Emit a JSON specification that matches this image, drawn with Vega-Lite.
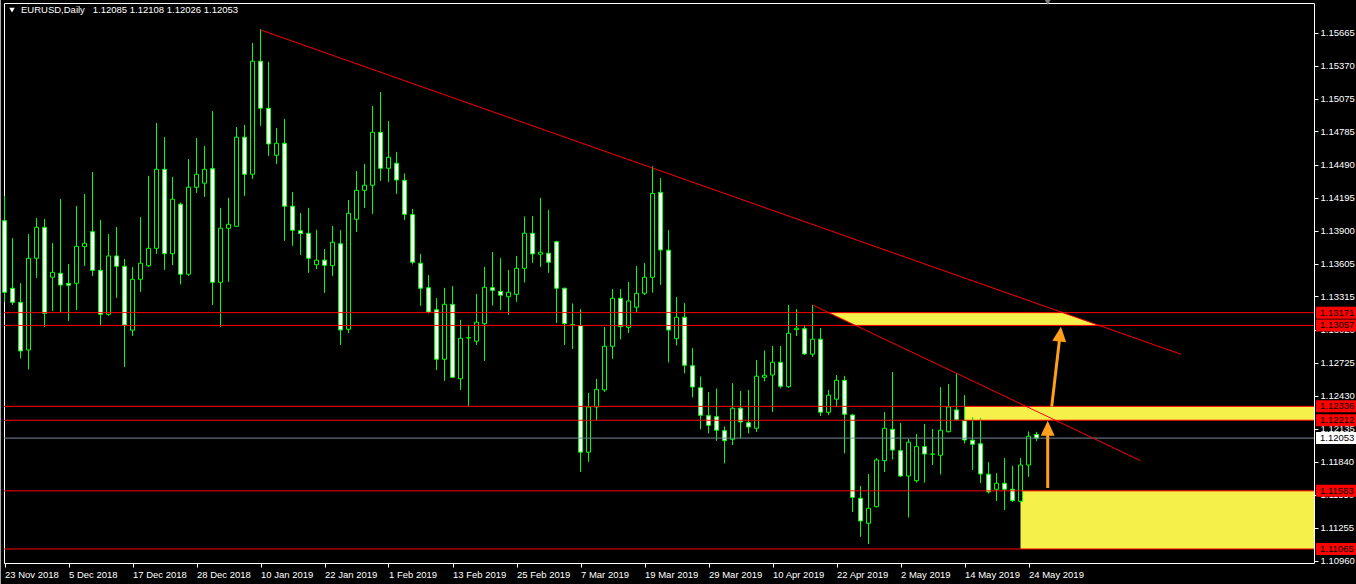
{
  "$schema": "https://vega.github.io/schema/vega-lite/v6.json",
  "width": 1310,
  "height": 560,
  "autosize": {"type": "none"},
  "padding": {"left": 4, "top": 3, "right": 42, "bottom": 21},
  "background": "#000000",
  "config": {
    "view": {"stroke": "#FFFFFF", "strokeWidth": 1},
    "font": "Liberation Sans",
    "axis": {"domain": false, "grid": false, "tickColor": "#FFFFFF", "labelColor": "#FFFFFF", "labelFont": "Liberation Sans", "labelFontSize": 9.5, "tickSize": 4}
  },
  "datasets": {
    "bars": [
      {"d": "2018-11-23", "o": 1.13990, "h": 1.14210, "l": 1.13269, "c": 1.13352},
      {"d": "2018-11-26", "o": 1.13388, "h": 1.13833, "l": 1.13239, "c": 1.13263},
      {"d": "2018-11-27", "o": 1.13263, "h": 1.13432, "l": 1.12764, "c": 1.12829},
      {"d": "2018-11-28", "o": 1.12838, "h": 1.13869, "l": 1.12666, "c": 1.13655},
      {"d": "2018-11-29", "o": 1.13655, "h": 1.14012, "l": 1.13482, "c": 1.13931},
      {"d": "2018-11-30", "o": 1.13931, "h": 1.14003, "l": 1.13046, "c": 1.13165},
      {"d": "2018-12-03", "o": 1.13486, "h": 1.13789, "l": 1.13188, "c": 1.13530},
      {"d": "2018-12-04", "o": 1.13522, "h": 1.14184, "l": 1.13179, "c": 1.13417},
      {"d": "2018-12-05", "o": 1.13432, "h": 1.13604, "l": 1.13099, "c": 1.13415},
      {"d": "2018-12-06", "o": 1.13432, "h": 1.14121, "l": 1.13195, "c": 1.13762},
      {"d": "2018-12-07", "o": 1.13759, "h": 1.14228, "l": 1.13589, "c": 1.13789},
      {"d": "2018-12-10", "o": 1.13892, "h": 1.14424, "l": 1.13500, "c": 1.13548},
      {"d": "2018-12-11", "o": 1.13548, "h": 1.13997, "l": 1.13061, "c": 1.13156},
      {"d": "2018-12-12", "o": 1.13156, "h": 1.13869, "l": 1.13144, "c": 1.13676},
      {"d": "2018-12-13", "o": 1.13676, "h": 1.13934, "l": 1.13304, "c": 1.13584},
      {"d": "2018-12-14", "o": 1.13584, "h": 1.13649, "l": 1.12689, "c": 1.13061},
      {"d": "2018-12-17", "o": 1.13014, "h": 1.13575, "l": 1.12966, "c": 1.13468},
      {"d": "2018-12-18", "o": 1.13468, "h": 1.14021, "l": 1.13358, "c": 1.13611},
      {"d": "2018-12-19", "o": 1.13589, "h": 1.14389, "l": 1.13580, "c": 1.13744},
      {"d": "2018-12-20", "o": 1.13744, "h": 1.14861, "l": 1.13696, "c": 1.14448},
      {"d": "2018-12-21", "o": 1.14448, "h": 1.14734, "l": 1.13554, "c": 1.13696},
      {"d": "2018-12-24", "o": 1.13696, "h": 1.14380, "l": 1.13596, "c": 1.14181},
      {"d": "2018-12-26", "o": 1.14137, "h": 1.14151, "l": 1.13424, "c": 1.13513},
      {"d": "2018-12-27", "o": 1.13513, "h": 1.14540, "l": 1.13500, "c": 1.14288},
      {"d": "2018-12-28", "o": 1.14288, "h": 1.14727, "l": 1.14240, "c": 1.14404},
      {"d": "2018-12-31", "o": 1.14324, "h": 1.14656, "l": 1.14204, "c": 1.14448},
      {"d": "2019-01-02", "o": 1.14454, "h": 1.14965, "l": 1.13239, "c": 1.13441},
      {"d": "2019-01-03", "o": 1.13441, "h": 1.14104, "l": 1.13046, "c": 1.13923},
      {"d": "2019-01-04", "o": 1.13923, "h": 1.14193, "l": 1.13447, "c": 1.13958},
      {"d": "2019-01-07", "o": 1.13940, "h": 1.14825, "l": 1.13935, "c": 1.14734},
      {"d": "2019-01-08", "o": 1.14734, "h": 1.14843, "l": 1.14213, "c": 1.14404},
      {"d": "2019-01-09", "o": 1.14404, "h": 1.15574, "l": 1.14365, "c": 1.15411},
      {"d": "2019-01-10", "o": 1.15411, "h": 1.15696, "l": 1.14837, "c": 1.14992},
      {"d": "2019-01-11", "o": 1.14992, "h": 1.15405, "l": 1.14570, "c": 1.14674},
      {"d": "2019-01-14", "o": 1.14573, "h": 1.14816, "l": 1.14498, "c": 1.14680},
      {"d": "2019-01-15", "o": 1.14680, "h": 1.14897, "l": 1.13812, "c": 1.14119},
      {"d": "2019-01-16", "o": 1.14119, "h": 1.14243, "l": 1.13768, "c": 1.13905},
      {"d": "2019-01-17", "o": 1.13901, "h": 1.14059, "l": 1.13685, "c": 1.13875},
      {"d": "2019-01-18", "o": 1.13878, "h": 1.14104, "l": 1.13527, "c": 1.13655},
      {"d": "2019-01-21", "o": 1.13598, "h": 1.13908, "l": 1.13560, "c": 1.13638},
      {"d": "2019-01-22", "o": 1.13638, "h": 1.13738, "l": 1.13349, "c": 1.13593},
      {"d": "2019-01-23", "o": 1.13589, "h": 1.13943, "l": 1.13500, "c": 1.13798},
      {"d": "2019-01-24", "o": 1.13785, "h": 1.13905, "l": 1.12883, "c": 1.13016},
      {"d": "2019-01-25", "o": 1.13023, "h": 1.14172, "l": 1.12990, "c": 1.14056},
      {"d": "2019-01-28", "o": 1.14003, "h": 1.14433, "l": 1.13892, "c": 1.14261},
      {"d": "2019-01-29", "o": 1.14261, "h": 1.14496, "l": 1.14106, "c": 1.14306},
      {"d": "2019-01-30", "o": 1.14306, "h": 1.15012, "l": 1.14053, "c": 1.14778},
      {"d": "2019-01-31", "o": 1.14778, "h": 1.15137, "l": 1.14347, "c": 1.14457},
      {"d": "2019-02-01", "o": 1.14457, "h": 1.14876, "l": 1.14338, "c": 1.14555},
      {"d": "2019-02-04", "o": 1.14502, "h": 1.14603, "l": 1.14231, "c": 1.14353},
      {"d": "2019-02-05", "o": 1.14350, "h": 1.14409, "l": 1.13999, "c": 1.14047},
      {"d": "2019-02-06", "o": 1.14044, "h": 1.14095, "l": 1.13602, "c": 1.13620},
      {"d": "2019-02-07", "o": 1.13611, "h": 1.13694, "l": 1.13233, "c": 1.13388},
      {"d": "2019-02-08", "o": 1.13393, "h": 1.13504, "l": 1.13165, "c": 1.13177},
      {"d": "2019-02-11", "o": 1.13197, "h": 1.13299, "l": 1.12660, "c": 1.12755},
      {"d": "2019-02-12", "o": 1.12755, "h": 1.13391, "l": 1.12565, "c": 1.13245},
      {"d": "2019-02-13", "o": 1.13245, "h": 1.13406, "l": 1.12590, "c": 1.12595},
      {"d": "2019-02-14", "o": 1.12582, "h": 1.13106, "l": 1.12484, "c": 1.12942},
      {"d": "2019-02-15", "o": 1.12945, "h": 1.13055, "l": 1.12339, "c": 1.12948},
      {"d": "2019-02-18", "o": 1.12916, "h": 1.13337, "l": 1.12883, "c": 1.13085},
      {"d": "2019-02-19", "o": 1.13073, "h": 1.13578, "l": 1.12740, "c": 1.13397},
      {"d": "2019-02-20", "o": 1.13393, "h": 1.13711, "l": 1.13236, "c": 1.13370},
      {"d": "2019-02-21", "o": 1.13361, "h": 1.13655, "l": 1.13195, "c": 1.13326},
      {"d": "2019-02-22", "o": 1.13313, "h": 1.13551, "l": 1.13150, "c": 1.13352},
      {"d": "2019-02-25", "o": 1.13334, "h": 1.13676, "l": 1.13269, "c": 1.13566},
      {"d": "2019-02-26", "o": 1.13566, "h": 1.14026, "l": 1.13441, "c": 1.13878},
      {"d": "2019-02-27", "o": 1.13878, "h": 1.14032, "l": 1.13616, "c": 1.13694},
      {"d": "2019-02-28", "o": 1.13691, "h": 1.14193, "l": 1.13580, "c": 1.13709},
      {"d": "2019-03-01", "o": 1.13700, "h": 1.14086, "l": 1.13527, "c": 1.13620},
      {"d": "2019-03-04", "o": 1.13803, "h": 1.13810, "l": 1.13081, "c": 1.13388},
      {"d": "2019-03-05", "o": 1.13388, "h": 1.13392, "l": 1.12883, "c": 1.13073},
      {"d": "2019-03-06", "o": 1.13064, "h": 1.13251, "l": 1.12847, "c": 1.13062},
      {"d": "2019-03-07", "o": 1.13055, "h": 1.13201, "l": 1.11754, "c": 1.11927},
      {"d": "2019-03-08", "o": 1.11927, "h": 1.12455, "l": 1.11843, "c": 1.12330},
      {"d": "2019-03-11", "o": 1.12330, "h": 1.12580, "l": 1.12214, "c": 1.12488},
      {"d": "2019-03-12", "o": 1.12482, "h": 1.13043, "l": 1.12467, "c": 1.12871},
      {"d": "2019-03-13", "o": 1.12871, "h": 1.13379, "l": 1.12761, "c": 1.13299},
      {"d": "2019-03-14", "o": 1.13299, "h": 1.13379, "l": 1.12934, "c": 1.13046},
      {"d": "2019-03-15", "o": 1.13040, "h": 1.13444, "l": 1.12990, "c": 1.13275},
      {"d": "2019-03-18", "o": 1.13219, "h": 1.13584, "l": 1.13177, "c": 1.13343},
      {"d": "2019-03-19", "o": 1.13343, "h": 1.13611, "l": 1.13328, "c": 1.13486},
      {"d": "2019-03-20", "o": 1.13486, "h": 1.14473, "l": 1.13351, "c": 1.14233},
      {"d": "2019-03-21", "o": 1.14243, "h": 1.14368, "l": 1.13420, "c": 1.13729},
      {"d": "2019-03-22", "o": 1.13727, "h": 1.13905, "l": 1.12729, "c": 1.13016},
      {"d": "2019-03-25", "o": 1.12939, "h": 1.13310, "l": 1.12880, "c": 1.13130},
      {"d": "2019-03-26", "o": 1.13130, "h": 1.13254, "l": 1.12631, "c": 1.12702},
      {"d": "2019-03-27", "o": 1.12698, "h": 1.12853, "l": 1.12417, "c": 1.12508},
      {"d": "2019-03-28", "o": 1.12502, "h": 1.12600, "l": 1.12132, "c": 1.12256},
      {"d": "2019-03-29", "o": 1.12253, "h": 1.12461, "l": 1.12096, "c": 1.12167},
      {"d": "2019-04-01", "o": 1.12244, "h": 1.12493, "l": 1.12030, "c": 1.12123},
      {"d": "2019-04-02", "o": 1.12119, "h": 1.12155, "l": 1.11829, "c": 1.12030},
      {"d": "2019-04-03", "o": 1.12042, "h": 1.12541, "l": 1.11992, "c": 1.12319},
      {"d": "2019-04-04", "o": 1.12319, "h": 1.12473, "l": 1.12057, "c": 1.12197},
      {"d": "2019-04-05", "o": 1.12190, "h": 1.12482, "l": 1.12096, "c": 1.12152},
      {"d": "2019-04-08", "o": 1.12140, "h": 1.12749, "l": 1.12110, "c": 1.12604},
      {"d": "2019-04-09", "o": 1.12595, "h": 1.12832, "l": 1.12560, "c": 1.12613},
      {"d": "2019-04-10", "o": 1.12615, "h": 1.12874, "l": 1.12288, "c": 1.12729},
      {"d": "2019-04-11", "o": 1.12729, "h": 1.12874, "l": 1.12497, "c": 1.12515},
      {"d": "2019-04-12", "o": 1.12511, "h": 1.13239, "l": 1.12502, "c": 1.12987},
      {"d": "2019-04-15", "o": 1.13019, "h": 1.13201, "l": 1.12963, "c": 1.13032},
      {"d": "2019-04-16", "o": 1.13028, "h": 1.13058, "l": 1.12794, "c": 1.12803},
      {"d": "2019-04-17", "o": 1.12800, "h": 1.13239, "l": 1.12778, "c": 1.12934},
      {"d": "2019-04-18", "o": 1.12934, "h": 1.13032, "l": 1.12250, "c": 1.12283},
      {"d": "2019-04-19", "o": 1.12283, "h": 1.12482, "l": 1.12259, "c": 1.12435},
      {"d": "2019-04-22", "o": 1.12399, "h": 1.12615, "l": 1.12333, "c": 1.12568},
      {"d": "2019-04-23", "o": 1.12568, "h": 1.12607, "l": 1.11918, "c": 1.12265},
      {"d": "2019-04-24", "o": 1.12259, "h": 1.12268, "l": 1.11397, "c": 1.11525},
      {"d": "2019-04-25", "o": 1.11517, "h": 1.11626, "l": 1.11175, "c": 1.11314},
      {"d": "2019-04-26", "o": 1.11294, "h": 1.11733, "l": 1.11109, "c": 1.11427},
      {"d": "2019-04-29", "o": 1.11442, "h": 1.11873, "l": 1.11437, "c": 1.11858},
      {"d": "2019-04-30", "o": 1.11852, "h": 1.12283, "l": 1.11754, "c": 1.12140},
      {"d": "2019-05-01", "o": 1.12132, "h": 1.12642, "l": 1.11864, "c": 1.11947},
      {"d": "2019-05-02", "o": 1.11941, "h": 1.12188, "l": 1.11709, "c": 1.11715},
      {"d": "2019-05-03", "o": 1.11715, "h": 1.12042, "l": 1.11347, "c": 1.12016},
      {"d": "2019-05-06", "o": 1.11674, "h": 1.12090, "l": 1.11659, "c": 1.11977},
      {"d": "2019-05-07", "o": 1.11977, "h": 1.12179, "l": 1.11659, "c": 1.11911},
      {"d": "2019-05-08", "o": 1.11909, "h": 1.12134, "l": 1.11813, "c": 1.11911},
      {"d": "2019-05-09", "o": 1.11900, "h": 1.12506, "l": 1.11731, "c": 1.12123},
      {"d": "2019-05-10", "o": 1.12110, "h": 1.12532, "l": 1.12105, "c": 1.12330},
      {"d": "2019-05-13", "o": 1.12304, "h": 1.12631, "l": 1.12210, "c": 1.12217},
      {"d": "2019-05-14", "o": 1.12208, "h": 1.12435, "l": 1.12007, "c": 1.12036},
      {"d": "2019-05-15", "o": 1.12034, "h": 1.12241, "l": 1.11769, "c": 1.11998},
      {"d": "2019-05-16", "o": 1.12003, "h": 1.12235, "l": 1.11653, "c": 1.11733},
      {"d": "2019-05-17", "o": 1.11731, "h": 1.11837, "l": 1.11561, "c": 1.11573},
      {"d": "2019-05-20", "o": 1.11597, "h": 1.11739, "l": 1.11493, "c": 1.11650},
      {"d": "2019-05-21", "o": 1.11650, "h": 1.11873, "l": 1.11412, "c": 1.11597},
      {"d": "2019-05-22", "o": 1.11597, "h": 1.11805, "l": 1.11486, "c": 1.11495},
      {"d": "2019-05-23", "o": 1.11490, "h": 1.11873, "l": 1.11480, "c": 1.11813},
      {"d": "2019-05-24", "o": 1.11813, "h": 1.12110, "l": 1.11709, "c": 1.12070},
      {"d": "2019-05-27", "o": 1.12085, "h": 1.12108, "l": 1.12026, "c": 1.12053}
    ],
    "levels": [
      {"p": 1.13171, "kind": "level"},
      {"p": 1.13057, "kind": "level"},
      {"p": 1.12336, "kind": "level"},
      {"p": 1.12212, "kind": "level"},
      {"p": 1.11583, "kind": "level"},
      {"p": 1.11065, "kind": "level"},
      {"p": 1.12053, "kind": "bid"}
    ]
  },
  "layer": [
    {
      "description": "Candle wicks; this layer also carries the time and price axes",
      "data": {"name": "bars"},
      "transform": [{"window": [{"op": "row_number", "as": "n"}]}],
      "mark": {"type": "rule", "color": "#00FF00", "strokeWidth": 1},
      "encoding": {
        "x": {
          "field": "n", "type": "quantitative", "title": null,
          "scale": {"domain": [0.9375, 164.6875], "nice": false, "zero": false, "padding": 0},
          "axis": {
            "title": null, "orient": "bottom", "tickCount": 40,
            "values": [1, 9, 17, 25, 33, 41, 49, 57, 65, 73, 81, 89, 97, 105, 113, 121, 129],
            "labelExpr": "['23 Nov 2018','5 Dec 2018','17 Dec 2018','28 Dec 2018','10 Jan 2019','22 Jan 2019','1 Feb 2019','13 Feb 2019','25 Feb 2019','7 Mar 2019','19 Mar 2019','29 Mar 2019','10 Apr 2019','22 Apr 2019','2 May 2019','14 May 2019','24 May 2019'][(datum.value - 1) / 8]",
            "labelAlign": "left", "labelBaseline": "top", "labelPadding": 2, "labelDx": 1,
            "labelOverlap": false, "labelFlush": false
          }
        },
        "y": {
          "field": "l", "type": "quantitative", "title": null,
          "scale": {"domain": [1.1094, 1.1593], "nice": false, "zero": false, "padding": 0},
          "axis": {
            "title": null, "orient": "right", "tickCount": 40,
            "values": [1.1096, 1.11255, 1.1155, 1.1184, 1.12135, 1.1243, 1.12725, 1.1302, 1.13315, 1.13605, 1.139, 1.14195, 1.1449, 1.14785, 1.15075, 1.1537, 1.15665],
            "format": ".5f", "labelAlign": "left", "labelBaseline": "middle", "labelPadding": 2,
            "labelOverlap": false, "labelFlush": false
          }
        },
        "y2": {"field": "h"}
      }
    },
    {
      "description": "Window edge on the far left",
      "data": {"values": [{"n": 0.5, "lo": 1.1060, "hi": 1.1600}]},
      "mark": {"type": "rule", "color": "#A8A8A8", "strokeWidth": 1},
      "encoding": {
        "x": {"field": "n", "type": "quantitative", "title": null},
        "y": {"field": "lo", "type": "quantitative", "title": null},
        "y2": {"field": "hi"}
      }
    },
    {
      "description": "Resistance band between 1.13057 and 1.13171, cut by both trendlines",
      "data": {"values": [
        {"n": 104.01, "top": 1.13171, "bot": 1.13171},
        {"n": 107.38, "top": 1.13171, "bot": 1.13057},
        {"n": 133.29, "top": 1.13171, "bot": 1.13057},
        {"n": 137.83, "top": 1.13057, "bot": 1.13057}
      ]},
      "mark": {"type": "area", "color": "#F5F04A", "opacity": 1},
      "encoding": {
        "x": {"field": "n", "type": "quantitative", "title": null},
        "y": {"field": "top", "type": "quantitative", "title": null},
        "y2": {"field": "bot"}
      }
    },
    {
      "description": "Open-ended zones to the right edge",
      "data": {"values": [
        {"n": 121, "n2": 175, "lo": 1.12212, "hi": 1.12336},
        {"n": 128, "n2": 175, "lo": 1.11065, "hi": 1.11583}
      ]},
      "mark": {"type": "rect", "color": "#F5F04A", "clip": true},
      "encoding": {
        "x": {"field": "n", "type": "quantitative", "title": null},
        "x2": {"field": "n2"},
        "y": {"field": "lo", "type": "quantitative", "title": null},
        "y2": {"field": "hi"}
      }
    },
    {
      "description": "Candle wicks drawn again above the zones",
      "data": {"name": "bars"},
      "transform": [{"window": [{"op": "row_number", "as": "n"}]}],
      "mark": {"type": "rule", "color": "#00FF00", "strokeWidth": 1},
      "encoding": {
        "x": {"field": "n", "type": "quantitative", "title": null},
        "y": {"field": "l", "type": "quantitative", "title": null},
        "y2": {"field": "h"}
      }
    },
    {
      "description": "Candle bodies: hollow for up days, white for down days",
      "data": {"name": "bars"},
      "transform": [{"window": [{"op": "row_number", "as": "n"}]}],
      "mark": {"type": "bar", "width": 4, "stroke": "#00FF00", "strokeWidth": 1},
      "encoding": {
        "x": {"field": "n", "type": "quantitative", "title": null},
        "y": {"field": "o", "type": "quantitative", "title": null},
        "y2": {"field": "c"},
        "fill": {"condition": {"test": "datum.c >= datum.o", "value": "#000000"}, "value": "#FFFFFF"},
        "tooltip": [
          {"field": "d", "title": "Date"},
          {"field": "o", "title": "Open", "format": ".5f"},
          {"field": "h", "title": "High", "format": ".5f"},
          {"field": "l", "title": "Low", "format": ".5f"},
          {"field": "c", "title": "Close", "format": ".5f"}
        ]
      }
    },
    {
      "description": "Horizontal support and resistance levels",
      "data": {"name": "levels"},
      "transform": [{"filter": "datum.kind == 'level'"}],
      "mark": {"type": "rule", "color": "#FF0000", "strokeWidth": 1},
      "encoding": {
        "y": {"field": "p", "type": "quantitative", "title": null}
      }
    },
    {
      "description": "Bid line",
      "data": {"name": "levels"},
      "transform": [{"filter": "datum.kind == 'bid'"}],
      "mark": {"type": "rule", "color": "#778899", "strokeWidth": 1},
      "encoding": {
        "y": {"field": "p", "type": "quantitative", "title": null}
      }
    },
    {
      "description": "Descending trendlines",
      "data": {"values": [
        {"n": 33, "p": 1.15690, "n2": 148.06, "p2": 1.12800},
        {"n": 102, "p": 1.13239, "n2": 143, "p2": 1.11852}
      ]},
      "mark": {"type": "rule", "color": "#FF0000", "strokeWidth": 1},
      "encoding": {
        "x": {"field": "n", "type": "quantitative", "title": null},
        "x2": {"field": "n2"},
        "y": {"field": "p", "type": "quantitative", "title": null},
        "y2": {"field": "p2"}
      }
    },
    {
      "description": "Arrow shafts",
      "data": {"values": [
        {"n": 131.4, "p": 1.11608, "n2": 131.4, "p2": 1.12100},
        {"n": 131.9, "p": 1.12333, "n2": 132.88, "p2": 1.12935}
      ]},
      "mark": {"type": "rule", "color": "#FF9F1C", "strokeWidth": 3, "strokeCap": "butt"},
      "encoding": {
        "x": {"field": "n", "type": "quantitative", "title": null},
        "x2": {"field": "n2"},
        "y": {"field": "p", "type": "quantitative", "title": null},
        "y2": {"field": "p2"}
      }
    },
    {
      "description": "Head of the vertical arrow",
      "data": {"values": [{"n": 131.4, "p": 1.12208}]},
      "mark": {"type": "point", "shape": "M0,0L-0.93,2L0.93,2Z", "size": 225, "filled": true, "color": "#FF9F1C", "opacity": 1, "angle": 0},
      "encoding": {
        "x": {"field": "n", "type": "quantitative", "title": null},
        "y": {"field": "p", "type": "quantitative", "title": null}
      }
    },
    {
      "description": "Head of the slanted arrow",
      "data": {"values": [{"n": 133.06, "p": 1.13046}]},
      "mark": {"type": "point", "shape": "M0,0L-0.93,2L0.93,2Z", "size": 225, "filled": true, "color": "#FF9F1C", "opacity": 1, "angle": 6.6},
      "encoding": {
        "x": {"field": "n", "type": "quantitative", "title": null},
        "y": {"field": "p", "type": "quantitative", "title": null}
      }
    },
    {
      "description": "Chart shift marker on the top edge",
      "data": {"values": [{"n": 131.4, "p": 1.15938}]},
      "mark": {"type": "point", "shape": "triangle-down", "size": 45, "filled": true, "color": "#7F7F7F", "opacity": 1},
      "encoding": {
        "x": {"field": "n", "type": "quantitative", "title": null},
        "y": {"field": "p", "type": "quantitative", "title": null}
      }
    },
    {
      "description": "Header marker",
      "data": {"values": [{"n": 1.94, "p": 1.15866}]},
      "mark": {"type": "point", "shape": "triangle-down", "size": 30, "filled": true, "color": "#FFFFFF", "opacity": 1},
      "encoding": {
        "x": {"field": "n", "type": "quantitative", "title": null},
        "y": {"field": "p", "type": "quantitative", "title": null}
      }
    },
    {
      "description": "Header: symbol, timeframe and last bar OHLC",
      "data": {"values": [{"n": 3.06, "p": 1.15844, "label": "EURUSD,Daily\u00a0\u00a0 1.12085 1.12108 1.12026 1.12053"}]},
      "mark": {"type": "text", "color": "#FFFFFF", "font": "Liberation Sans", "fontSize": 9.5, "align": "left", "baseline": "alphabetic"},
      "encoding": {
        "x": {"field": "n", "type": "quantitative", "title": null},
        "y": {"field": "p", "type": "quantitative", "title": null},
        "text": {"field": "label"}
      }
    },
    {
      "description": "Price tags on the price scale",
      "data": {"name": "levels"},
      "mark": {"type": "point", "shape": "M-1,-0.3H1V0.3H-1Z", "size": 1600, "filled": true, "opacity": 1},
      "encoding": {
        "x": {"datum": 167.44, "type": "quantitative", "title": null},
        "y": {"field": "p", "type": "quantitative", "title": null},
        "fill": {"condition": {"test": "datum.kind == 'bid'", "value": "#FFFFFF"}, "value": "#FF0000"}
      }
    },
    {
      "description": "Price tag text",
      "data": {"name": "levels"},
      "mark": {"type": "text", "color": "#000000", "font": "Liberation Sans", "fontSize": 9.5, "align": "left", "baseline": "middle"},
      "encoding": {
        "x": {"datum": 165.44, "type": "quantitative", "title": null},
        "y": {"field": "p", "type": "quantitative", "title": null},
        "text": {"field": "p", "format": ".5f"}
      }
    }
  ]
}
